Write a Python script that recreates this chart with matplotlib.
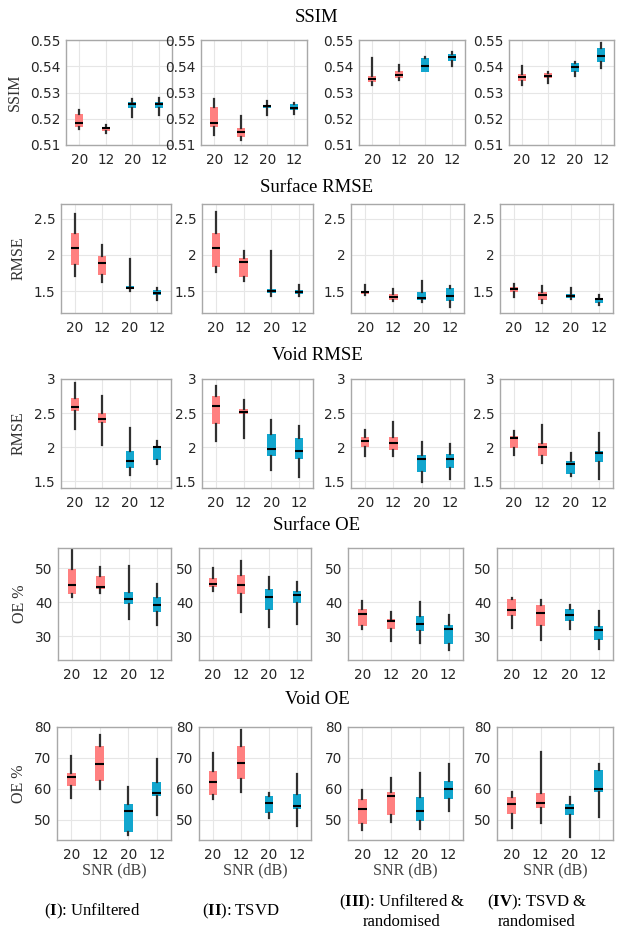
import matplotlib
matplotlib.use("Agg")
import matplotlib.pyplot as plt

plt.rcParams['mathtext.fontset'] = 'custom'
plt.rcParams['mathtext.rm'] = 'Liberation Serif'
plt.rcParams['mathtext.bf'] = 'Liberation Serif:bold'

# ---------------- data ----------------
snr_labels = ["20", "12", "20", "12"]
row_titles = ["SSIM", "Surface RMSE", "Void RMSE", "Surface OE", "Void OE"]
row_ylabels = ["SSIM", "RMSE", "RMSE", "OE %", "OE %"]
col_labels = [r"($\mathbf{I}$): Unfiltered", r"($\mathbf{II}$): TSVD",
              "($\\mathbf{III}$): Unfiltered &\nrandomised",
              "($\\mathbf{IV}$): TSVD &\nrandomised"]

# each box: (whisker low, q1, median, q3, whisker high)
ssim = [
    [(0.516, 0.517, 0.5185, 0.522, 0.5235), (0.5145, 0.5155, 0.5163, 0.5168, 0.5175),
     (0.5205, 0.524, 0.5255, 0.5265, 0.5275), (0.5215, 0.524, 0.5255, 0.5265, 0.528)],
    [(0.514, 0.517, 0.5185, 0.5245, 0.5275), (0.512, 0.513, 0.5148, 0.5165, 0.521),
     (0.5215, 0.5242, 0.5248, 0.5253, 0.5268), (0.522, 0.5232, 0.524, 0.5258, 0.526)],
    [(0.5328, 0.534, 0.5352, 0.5362, 0.5432), (0.5347, 0.5355, 0.5365, 0.5382, 0.5406),
     (0.5378, 0.538, 0.540, 0.5431, 0.5435), (0.5402, 0.542, 0.5435, 0.5447, 0.5456)],
    [(0.533, 0.5343, 0.5359, 0.5369, 0.540), (0.5336, 0.5355, 0.5364, 0.5374, 0.5378),
     (0.5364, 0.538, 0.5397, 0.5412, 0.5417), (0.5392, 0.5417, 0.544, 0.5469, 0.5487)],
]
surface_rmse = [
    [(1.71, 1.865, 2.10, 2.305, 2.56), (1.62, 1.72, 1.89, 1.98, 2.13),
     (1.50, 1.525, 1.55, 1.57, 1.94), (1.38, 1.45, 1.48, 1.515, 1.54)],
    [(1.76, 1.83, 2.095, 2.305, 2.59), (1.645, 1.70, 1.90, 1.95, 2.055),
     (1.44, 1.48, 1.50, 1.525, 2.06), (1.43, 1.465, 1.49, 1.52, 1.58)],
    [(1.445, 1.465, 1.49, 1.505, 1.59), (1.36, 1.385, 1.42, 1.455, 1.53),
     (1.35, 1.385, 1.41, 1.485, 1.64), (1.285, 1.36, 1.44, 1.545, 1.57)],
    [(1.42, 1.495, 1.525, 1.555, 1.60), (1.34, 1.385, 1.445, 1.485, 1.57),
     (1.395, 1.41, 1.44, 1.465, 1.55), (1.31, 1.34, 1.395, 1.41, 1.445)],
]
void_rmse = [
    [(2.26, 2.53, 2.59, 2.72, 2.94), (2.03, 2.36, 2.42, 2.505, 2.75),
     (1.59, 1.69, 1.80, 1.95, 2.28), (1.75, 1.805, 2.0, 2.02, 2.09)],
    [(2.085, 2.34, 2.60, 2.75, 2.89), (2.14, 2.485, 2.52, 2.56, 2.69),
     (1.66, 1.87, 1.97, 2.19, 2.40), (1.56, 1.82, 1.94, 2.13, 2.31)],
    [(1.875, 2.0, 2.085, 2.15, 2.25), (1.865, 1.965, 2.055, 2.15, 2.37),
     (1.495, 1.64, 1.82, 1.88, 2.07), (1.535, 1.695, 1.825, 1.90, 2.05)],
    [(1.89, 1.985, 2.13, 2.17, 2.235), (1.765, 1.87, 2.005, 2.065, 2.33),
     (1.57, 1.605, 1.75, 1.795, 1.915), (1.535, 1.78, 1.915, 1.95, 2.205)],
]
surface_oe = [
    [(41.6, 42.5, 45.0, 49.7, 55.4), (42.6, 43.8, 44.5, 47.7, 50.4),
     (35.0, 39.5, 41.1, 43.1, 50.7), (33.3, 37.2, 39.3, 41.6, 45.5)],
    [(43.4, 44.4, 45.5, 47.1, 50.2), (37.0, 42.3, 45.2, 48.1, 52.3),
     (32.7, 37.6, 41.7, 43.8, 47.6), (33.6, 39.9, 42.1, 43.4, 46.1)],
    [(32.0, 33.1, 36.5, 37.9, 40.5), (28.7, 32.2, 34.5, 35.0, 37.0),
     (27.9, 31.6, 33.7, 36.0, 40.2), (25.8, 27.7, 32.1, 33.3, 36.4)],
    [(32.4, 36.1, 37.7, 40.9, 41.4), (29.0, 32.9, 36.8, 39.1, 40.8),
     (32.0, 34.6, 36.2, 38.1, 39.2), (26.1, 29.0, 31.9, 33.0, 37.3)],
]
void_oe = [
    [(57.1, 61.0, 64.0, 65.3, 70.5), (59.9, 62.6, 68.0, 73.8, 77.4),
     (45.2, 46.1, 52.9, 55.2, 60.5), (51.7, 57.6, 58.7, 62.3, 69.7)],
    [(56.9, 58.1, 62.1, 65.9, 71.5), (59.0, 63.1, 68.3, 73.9, 78.9),
     (50.7, 52.3, 55.5, 57.6, 58.8), (48.0, 53.5, 54.6, 58.5, 64.8)],
    [(46.7, 48.6, 53.6, 56.6, 59.7), (49.3, 51.5, 57.6, 59.0, 63.5),
     (47.0, 49.6, 52.9, 57.4, 65.1), (52.9, 56.6, 60.1, 62.6, 68.1)],
    [(47.3, 52.0, 55.0, 57.4, 59.0), (48.9, 53.7, 55.6, 58.7, 71.8),
     (44.6, 51.7, 53.9, 55.2, 57.4), (50.8, 59.0, 60.1, 66.0, 68.2)],
]
all_rows = [ssim, surface_rmse, void_rmse, surface_oe, void_oe]

row_ylims = [(0.51, 0.55), (1.2, 2.7), (1.4, 3.0), (23, 56), (43.5, 80)]
row_yticks = [[0.51, 0.52, 0.53, 0.54, 0.55], [1.5, 2, 2.5], [1.5, 2, 2.5, 3],
              [30, 40, 50], [50, 60, 70, 80]]
row_yticklabels = [["0.51", "0.52", "0.53", "0.54", "0.55"], ["1.5", "2", "2.5"],
                   ["1.5", "2", "2.5", "3"], ["30", "40", "50"], ["50", "60", "70", "80"]]

box_colors = ['#FF8080', '#FF8080', '#12A6CE', '#12A6CE']

# ---------------- layout (pixels) ----------------
W, H = 619, 932
row_y = [(40, 145), (204, 313), (379, 488), (548, 660), (727, 840)]
row_x = [
    [(66, 172), (201, 307), (359, 465), (509, 614)],
    [(61, 171), (202, 313), (351, 464), (500, 613)],
    [(61, 171), (202, 313), (351, 464), (500, 613)],
    [(58, 171), (199, 311), (348, 463), (497, 613)],
    [(57, 171), (199, 311), (348, 463), (497, 613)],
]
title_y = [18, 188, 355, 525, 700]

fig = plt.figure(figsize=(W / 100, H / 100), dpi=100)
serif = 'Liberation Serif'

for r in range(5):
    y0, y1 = row_y[r]
    for c in range(4):
        x0, x1 = row_x[r][c]
        ax = fig.add_axes([x0 / W, 1 - y1 / H, (x1 - x0) / W, (y1 - y0) / H])
        stats = []
        for (lo, q1, med, q3, hi) in all_rows[r][c]:
            stats.append(dict(whislo=lo, q1=q1, med=med, q3=q3, whishi=hi, fliers=[]))
        bp = ax.bxp(stats, positions=[1, 2, 3, 4], widths=0.3, patch_artist=True,
                    showfliers=False, showcaps=False,
                    whiskerprops=dict(color='#303030', linewidth=1.6),
                    medianprops=dict(color='black', linewidth=1.5),
                    boxprops=dict(linewidth=0))
        for patch, col in zip(bp['boxes'], box_colors):
            patch.set_facecolor(col)
            patch.set_edgecolor(col)
        ax.set_xlim(0.5, 4.5)
        ax.set_ylim(*row_ylims[r])
        ax.set_xticks([1, 2, 3, 4])
        ax.set_xticklabels(snr_labels)
        ax.set_yticks(row_yticks[r])
        ax.set_yticklabels(row_yticklabels[r])
        ax.tick_params(length=0, labelsize=9.8, colors='#262626', pad=4)
        ax.tick_params(axis='x', pad=6)
        ax.grid(True, color='#E6E6E6', linewidth=0.8)
        ax.set_axisbelow(True)
        for s in ax.spines.values():
            s.set_color('#A8A8A8')
            s.set_linewidth(1.0)
        if c == 0:
            ax.set_ylabel(row_ylabels[r], family=serif, fontsize=11.5, color='#333333',
                          labelpad=5)
        if r == 4:
            ax.set_xlabel("SNR (dB)", family=serif, fontsize=11.5, color='#444444',
                          labelpad=0)
    fig.text(317 / W, 1 - title_y[r] / H, row_titles[r], family=serif, fontsize=13.5,
             ha='center', va='center')

label_x = [92, 241, 402, 537]
for c in range(4):
    fig.text(label_x[c] / W, 1 - 911 / H, col_labels[c], family=serif, fontsize=12,
             ha='center', va='center', linespacing=1.15)

fig.savefig("out.png", dpi=100)
